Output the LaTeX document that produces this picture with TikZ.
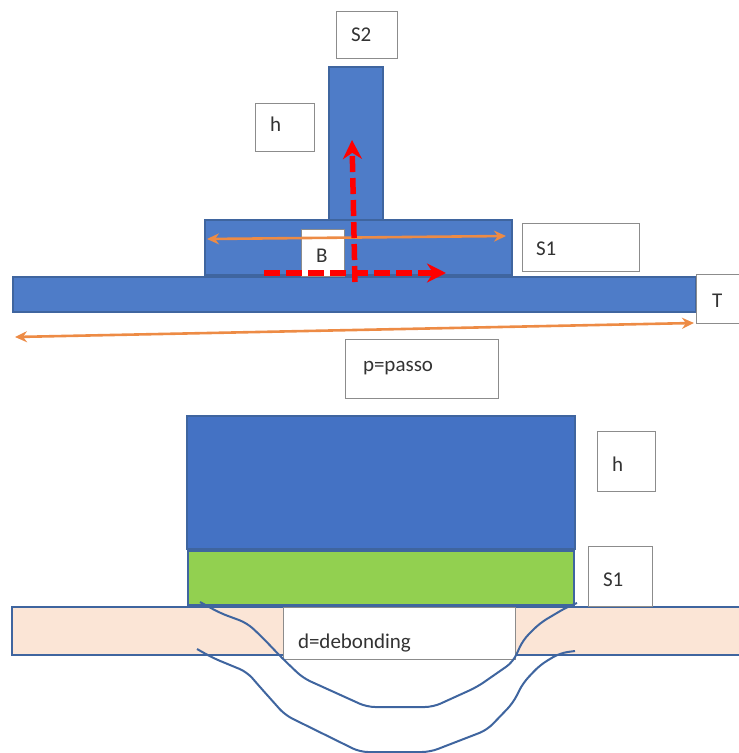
\documentclass[tikz,border=0pt]{standalone}
\usepackage{fontspec}
\setmainfont{Carlito}
\usetikzlibrary{arrows.meta, positioning}
\definecolor{beamblue}{HTML}{4E7CC8}
\definecolor{beamedge}{HTML}{3F659F}
\definecolor{deepblue}{HTML}{4472C4}
\definecolor{glue}{HTML}{92D050}
\definecolor{skin}{HTML}{FBE5D6}
\definecolor{dim}{HTML}{ED8B45}

\begin{document}
\begin{tikzpicture}[
    x=1pt, y=-1pt,
    >=Stealth,
    % --- blocks ---
    block/.style={draw=beamedge, line width=1.8pt, anchor=north west, inner sep=0pt, outer sep=0pt},
    plate/.style={block, fill=beamblue},
    % --- labels ---
    tag/.style={draw=black!45, line width=0.9pt, fill=white, anchor=north west, inner ysep=0pt, outer sep=0pt, align=left, text=black!80, font=\fontsize{21}{24}\selectfont},
    % --- arrows ---
    size_arrow/.style={{Stealth[length=12pt,width=11pt]}-{Stealth[length=12pt,width=11pt]}, draw=dim, line width=2.6pt},
    load_arrow/.style={-{Stealth[length=19pt,width=19pt]}, draw=red, line width=5.5pt, dash pattern=on 16pt off 6pt},
    crack/.style={draw=beamedge, line width=2pt, rounded corners=8pt}
]
\useasboundingbox (0,0) rectangle (739,753);

% top section
\node[plate, minimum width=54pt, minimum height=153pt] (stem) at (329,67) {};
\node[plate, minimum width=307pt, minimum height=55pt] (flange) at (205,220) {};
\node[plate, minimum width=683pt, minimum height=35pt] (base) at (13,277) {};

\node[tag, inner xsep=15pt, text width=31pt, text height=30pt, text depth=17pt] (tagS) at (336,11) {S2};
\node[tag, inner xsep=15pt, text width=29pt, text height=28pt, text depth=20pt] (tagH) at (255,103) {h};
\node[tag, inner xsep=15pt, text width=13pt, text height=33pt, text depth=14pt] (tagB) at (301,229) {B};
\node[tag, inner xsep=14pt, text width=89pt, text height=32pt, text depth=16pt] (tagF) at (522,223) {S1};
\node[tag, inner xsep=16pt, text width=11pt, text height=33pt, text depth=16pt] (tagT) at (696,274) {T};
\node[tag, inner xsep=18pt, text width=117pt, text height=32pt, text depth=27pt] (tagP) at (345,339) {p=passo};

\coordinate (flangeL) at (207,239);
\coordinate (flangeR) at (506,236);
\coordinate (baseL) at (15,337);
\coordinate (baseR) at (694,323);
\draw[size_arrow] (flangeL) -- (flangeR);
\draw[size_arrow] (baseL) -- (baseR);

\coordinate (loadA) at (355,282);
\coordinate (loadB) at (352,140);
\coordinate (loadC) at (264,273);
\coordinate (loadD) at (446,273);
\draw[load_arrow] (loadA) -- (loadB);
\draw[load_arrow] (loadC) -- (loadD);

% bottom section
\node[block, fill=deepblue, minimum width=388pt, minimum height=133pt] (web) at (187,416) {};
\node[block, fill=glue, minimum width=386pt, minimum height=54pt] (layer) at (188,551) {};
\node[block, fill=skin, minimum width=729pt, minimum height=48pt] (sheet) at (12,607) {};

\node[tag, inner xsep=15pt, text width=28pt, text height=40pt, text depth=20pt] (tagHH) at (597,431) {h};
\node[tag, inner xsep=15pt, text width=34pt, text height=40pt, text depth=20pt] (tagSS) at (588,546) {S1};
\node[tag, inner xsep=15pt, text width=202pt, text height=41pt, text depth=11pt] (tagD) at (283,607) {d=debonding};

% debonding outlines
\draw[crack] (200,602) -- (220,613) -- (247,623) -- (262,637) -- (282,658) -- (303,678) -- (367,707) -- (433,707) -- (477,687) -- (513,662) -- (523,640) -- (540,623) -- (567,607) -- (577,603);
\draw[crack] (197,649) -- (213,658) -- (247,672) -- (260,687) -- (285,715) -- (360,752) -- (430,752) -- (487,730) -- (513,703) -- (523,683) -- (540,665) -- (560,653) -- (575,651);

\end{tikzpicture}
\end{document}
